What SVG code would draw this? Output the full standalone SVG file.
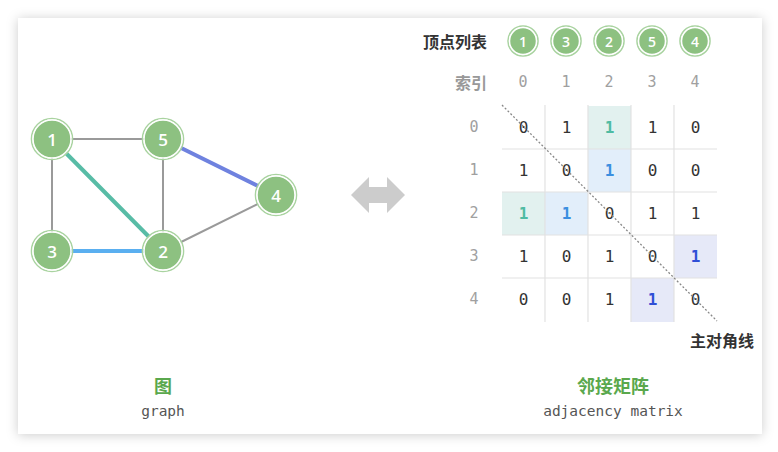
<svg xmlns="http://www.w3.org/2000/svg" width="778" height="452" viewBox="0 0 778 452">
<defs>
<filter id="sh" x="-5%" y="-5%" width="110%" height="110%">
<feDropShadow dx="0" dy="1" stdDeviation="6" flood-color="#000" flood-opacity="0.2"/>
</filter>
</defs>
<style>
.ring{fill:none;stroke:#a9d3a0;stroke-width:1.6}
.core{fill:#8dc181;stroke:#fff;stroke-width:1.5}
.nt{font-family:"Open Sans","DejaVu Sans",sans-serif;font-size:17px;font-weight:600;fill:#fff;text-anchor:middle;dominant-baseline:central}
.lt{font-family:"Open Sans","DejaVu Sans",sans-serif;font-size:14px;font-weight:600;fill:#fff;text-anchor:middle;dominant-baseline:central}
.idx{font-family:"DejaVu Sans Mono","Liberation Mono",monospace;font-size:15px;fill:#a0a0a0;text-anchor:middle;dominant-baseline:central}
.m{font-family:"DejaVu Sans Mono","Liberation Mono",monospace;font-size:16px;fill:#333;text-anchor:middle;dominant-baseline:central}
.mb{font-weight:bold}
.grid{stroke:#e2e2e2;stroke-width:1.2}
.cjk{font-family:"Noto Sans CJK SC",sans-serif;font-weight:bold;font-size:16px;dominant-baseline:central}
.cap{font-family:"DejaVu Sans Mono","Liberation Mono",monospace;font-size:14.5px;fill:#555;text-anchor:middle;dominant-baseline:central}
</style>
<rect width="778" height="452" fill="#ffffff"/>
<rect x="18" y="18" width="744" height="416" fill="#fff" filter="url(#sh)"/>

<g id="edges" stroke-linecap="round">
<line x1="52" y1="139" x2="163" y2="139" stroke="#9a9a9a" stroke-width="2"/>
<line x1="52" y1="139" x2="52" y2="251" stroke="#9a9a9a" stroke-width="2"/>
<line x1="163" y1="139" x2="163" y2="251" stroke="#9a9a9a" stroke-width="2"/>
<line x1="163" y1="251" x2="276" y2="195" stroke="#9a9a9a" stroke-width="2"/>
<line x1="52" y1="139" x2="163" y2="251" stroke="#58bca6" stroke-width="4"/>
<line x1="52" y1="251" x2="163" y2="251" stroke="#5aaff0" stroke-width="4"/>
<line x1="163" y1="139" x2="276" y2="195" stroke="#6f82df" stroke-width="4"/>
</g>

<g id="node1"><circle cx="52" cy="139" r="20.5" class="ring"/><circle cx="52" cy="139" r="19" class="core"/><text x="52" y="139" class="nt">1</text></g>
<g id="node5"><circle cx="163" cy="139" r="20.5" class="ring"/><circle cx="163" cy="139" r="19" class="core"/><text x="163" y="139" class="nt">5</text></g>
<g id="node4"><circle cx="276" cy="195" r="20.5" class="ring"/><circle cx="276" cy="195" r="19" class="core"/><text x="276" y="195" class="nt">4</text></g>
<g id="node3"><circle cx="52" cy="251" r="20.5" class="ring"/><circle cx="52" cy="251" r="19" class="core"/><text x="52" y="251" class="nt">3</text></g>
<g id="node2"><circle cx="163" cy="251" r="20.5" class="ring"/><circle cx="163" cy="251" r="19" class="core"/><text x="163" y="251" class="nt">2</text></g>

<g id="double-arrow">
<polygon points="351,195 369,177 369,187 387,187 387,177 405,195 387,213 387,203 369,203 369,213" fill="#cccccc"/>
</g>

<g id="vertex-list">
<text x="487" y="41" class="cjk" fill="#333" text-anchor="end">顶点列表</text>
<g id="v0"><circle cx="523" cy="41" r="15" class="ring"/><circle cx="523" cy="41" r="13.5" class="core"/><text x="523" y="41" class="lt">1</text></g>
<g id="v1"><circle cx="566" cy="41" r="15" class="ring"/><circle cx="566" cy="41" r="13.5" class="core"/><text x="566" y="41" class="lt">3</text></g>
<g id="v2"><circle cx="609" cy="41" r="15" class="ring"/><circle cx="609" cy="41" r="13.5" class="core"/><text x="609" y="41" class="lt">2</text></g>
<g id="v3"><circle cx="652" cy="41" r="15" class="ring"/><circle cx="652" cy="41" r="13.5" class="core"/><text x="652" y="41" class="lt">5</text></g>
<g id="v4"><circle cx="695" cy="41" r="15" class="ring"/><circle cx="695" cy="41" r="13.5" class="core"/><text x="695" y="41" class="lt">4</text></g>
</g>

<g id="index">
<text x="487" y="82" class="cjk" fill="#999" text-anchor="end">索引</text>
<text x="523" y="82" class="idx">0</text>
<text x="566" y="82" class="idx">1</text>
<text x="609" y="82" class="idx">2</text>
<text x="652" y="82" class="idx">3</text>
<text x="695" y="82" class="idx">4</text>
<text x="474" y="127" class="idx">0</text>
<text x="474" y="170" class="idx">1</text>
<text x="474" y="213" class="idx">2</text>
<text x="474" y="256" class="idx">3</text>
<text x="474" y="299" class="idx">4</text>
</g>

<g id="matrix">
<rect x="588" y="106" width="43" height="43" fill="#e2f1ef"/>
<rect x="588" y="149" width="43" height="43" fill="#e2eefa"/>
<rect x="502" y="192" width="43" height="43" fill="#e2f1ef"/>
<rect x="545" y="192" width="43" height="43" fill="#e2eefa"/>
<rect x="674" y="235" width="43" height="43" fill="#e6e9f8"/>
<rect x="631" y="278" width="43" height="44" fill="#e6e9f8"/>
<g class="grid">
<line x1="545" y1="105" x2="545" y2="322"/>
<line x1="588" y1="105" x2="588" y2="322"/>
<line x1="631" y1="105" x2="631" y2="322"/>
<line x1="674" y1="105" x2="674" y2="322"/>
<line x1="502" y1="149" x2="717" y2="149"/>
<line x1="502" y1="192" x2="717" y2="192"/>
<line x1="502" y1="235" x2="717" y2="235"/>
<line x1="502" y1="278" x2="717" y2="278"/>
</g>
<text x="523.5" y="127.5" class="m">0</text><text x="566.5" y="127.5" class="m">1</text><text x="609.5" y="127.5" class="m mb" style="fill:#4fbba3">1</text><text x="652.5" y="127.5" class="m">1</text><text x="695.5" y="127.5" class="m">0</text>
<text x="523.5" y="170.5" class="m">1</text><text x="566.5" y="170.5" class="m">0</text><text x="609.5" y="170.5" class="m mb" style="fill:#3b8fe0">1</text><text x="652.5" y="170.5" class="m">0</text><text x="695.5" y="170.5" class="m">0</text>
<text x="523.5" y="213.5" class="m mb" style="fill:#4fbba3">1</text><text x="566.5" y="213.5" class="m mb" style="fill:#3b8fe0">1</text><text x="609.5" y="213.5" class="m">0</text><text x="652.5" y="213.5" class="m">1</text><text x="695.5" y="213.5" class="m">1</text>
<text x="523.5" y="256.5" class="m">1</text><text x="566.5" y="256.5" class="m">0</text><text x="609.5" y="256.5" class="m">1</text><text x="652.5" y="256.5" class="m">0</text><text x="695.5" y="256.5" class="m mb" style="fill:#2f4fd6">1</text>
<text x="523.5" y="299.5" class="m">0</text><text x="566.5" y="299.5" class="m">0</text><text x="609.5" y="299.5" class="m">1</text><text x="652.5" y="299.5" class="m mb" style="fill:#2f4fd6">1</text><text x="695.5" y="299.5" class="m">0</text>
<line x1="502" y1="105" x2="717" y2="321" stroke="#888" stroke-width="1.3" stroke-dasharray="2,2"/>
<text x="722" y="340" class="cjk" fill="#333" text-anchor="middle">主对角线</text>
</g>

<g id="captions">
<text x="163" y="385" class="cjk" fill="#5aa84d" text-anchor="middle" font-size="18" style="font-size:18px">图</text>
<text x="163" y="411" class="cap">graph</text>
<text x="613" y="385" class="cjk" fill="#5aa84d" text-anchor="middle" style="font-size:18px">邻接矩阵</text>
<text x="613" y="411" class="cap">adjacency matrix</text>
</g>
</svg>
